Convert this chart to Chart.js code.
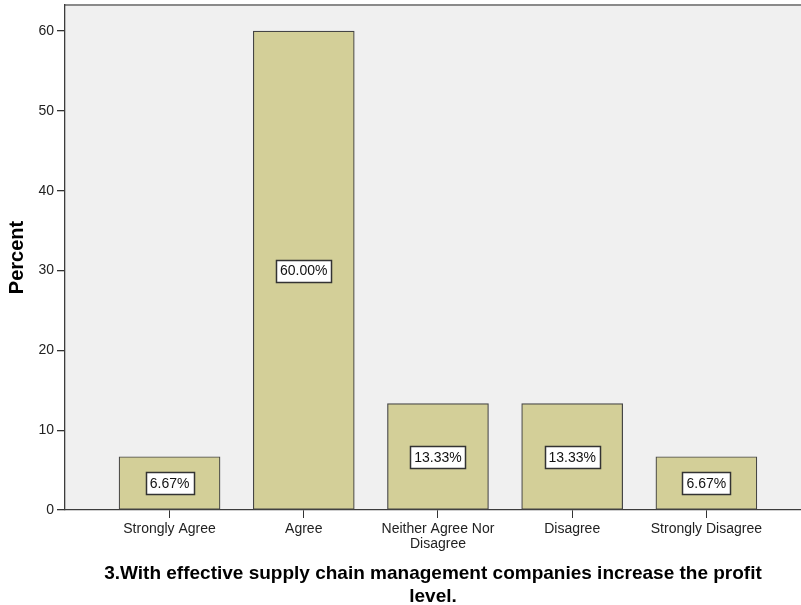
<!DOCTYPE html>
<html>
<head>
<meta charset="utf-8">
<script src="https://cdn.jsdelivr.net/npm/chart.js@4"></script>
<style>
  html, body { margin: 0; padding: 0; background: #fff; overflow: hidden; }
  #wrap { width: 801px; height: 605px; }
</style>
</head>
<body>
<div id="wrap"><canvas id="chart"></canvas></div>
<script>
// ─── DATA ─────────────────────────────────────────────────
const categories = ['Strongly Agree', 'Agree', ['Neither Agree Nor', 'Disagree'], 'Disagree', 'Strongly Disagree'];
const percents = [6.67, 60.00, 13.33, 13.33, 6.67];
const yTicks = [0, 10, 20, 30, 40, 50, 60];
const xTitle = ['3.With effective supply chain management companies increase the profit', 'level.'];
const yTitle = 'Percent';

const FONT = "'Liberation Sans', Arial, sans-serif";

// grey plot panel + top frame line
const panel = {
    id: 'panel',
    beforeDraw(chart) {
        const { ctx, chartArea: a } = chart;
        ctx.save();
        ctx.fillStyle = '#f0f0f0';
        ctx.fillRect(a.left, a.top, a.right - a.left, a.bottom - a.top);
        ctx.strokeStyle = '#8a8a8a';
        ctx.lineWidth = 2;
        ctx.beginPath();
        ctx.moveTo(a.left, a.top);
        ctx.lineTo(a.right, a.top);
        ctx.stroke();
        ctx.restore();
    }
};

// boxed percentage in the middle of each bar
const boxLabels = {
    id: 'boxLabels',
    afterDatasetsDraw(chart) {
        const { ctx } = chart;
        const y = chart.scales.y;
        const meta = chart.getDatasetMeta(0);
        ctx.save();
        ctx.font = '14px ' + FONT;
        ctx.textAlign = 'center';
        ctx.textBaseline = 'middle';
        meta.data.forEach((bar, i) => {
            const v = percents[i];
            const txt = v.toFixed(2) + '%';
            const cy = y.getPixelForValue(v / 2);
            const w = Math.round(ctx.measureText(txt).width) + 8;
            const h = 22;
            const bx = Math.round(bar.x - w / 2) + 0.5;
            const by = Math.round(cy - h / 2) + 0.5;
            ctx.fillStyle = '#fff';
            ctx.fillRect(bx, by, w, h);
            ctx.strokeStyle = '#333';
            ctx.lineWidth = 1.5;
            ctx.strokeRect(bx, by, w, h);
            ctx.fillStyle = '#111';
            ctx.fillText(txt, bar.x, cy + 1);
        });
        ctx.restore();
    }
};

new Chart(document.getElementById('chart'), {
    type: 'bar',
    data: {
        datasets: [{
            data: percents.map((v, i) => ({ x: i, y: v })),
            backgroundColor: '#d3cf98',
            borderColor: '#454545',
            borderWidth: 1.2,
            borderSkipped: false,
            barThickness: 101,
        }]
    },
    options: {
        responsive: true, maintainAspectRatio: false, animation: false,
        layout: { padding: { top: 5, left: 0, right: 0, bottom: 0 } },
        plugins: { legend: { display: false }, tooltip: { enabled: false } },
        scales: {
            x: {
                type: 'linear', min: -0.779, max: 4.705, offset: false,
                afterBuildTicks: s => { s.ticks = categories.map((_, i) => ({ value: i })); },
                afterFit: s => { s.height = 95; s.paddingLeft = 0; s.paddingRight = 0; },
                grid: { offset: false, drawOnChartArea: false, drawTicks: true, tickLength: 8, color: '#333', lineWidth: 1 },
                border: { display: true, color: '#3c3c3c', width: 1.3 },
                ticks: {
                    autoSkip: false, maxRotation: 0, padding: 4, color: '#222',
                    font: { family: FONT, size: 14, lineHeight: 1.05 },
                    callback: v => categories[v],
                },
                title: {
                    display: true, text: xTitle, color: '#000',
                    font: { family: FONT, size: 19, weight: 'bold', lineHeight: 1.2 },
                    padding: { top: 0, bottom: -3 },
                },
            },
            y: {
                min: 0, max: 63.26,
                afterBuildTicks: s => { s.ticks = yTicks.map(v => ({ value: v })); },
                afterFit: s => { s.width = 65; s.paddingTop = 0; s.paddingBottom = 0; },
                grid: { drawOnChartArea: false, drawTicks: true, tickLength: 8, color: '#333', lineWidth: 1.3 },
                border: { display: true, color: '#3c3c3c', width: 1.3 },
                ticks: { padding: 3, color: '#222', font: { family: FONT, size: 14 } },
                title: {
                    display: true, text: yTitle, color: '#000',
                    font: { family: FONT, size: 20, weight: 'bold', lineHeight: 1.2 },
                    padding: { top: 5, bottom: 0 },
                },
            }
        }
    },
    plugins: [panel, boxLabels]
});
</script>
</body>
</html>
